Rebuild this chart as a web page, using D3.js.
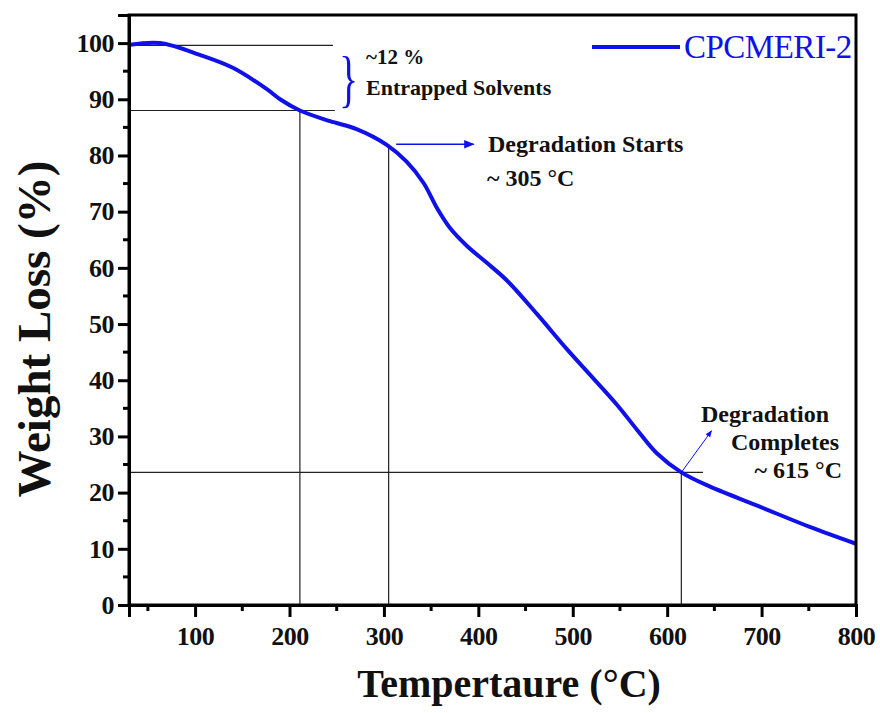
<!DOCTYPE html>
<html lang="en">
<head>
<meta charset="UTF-8">
<title>TGA CPCMERI-2</title>
<script src="https://d3js.org/d3.v7.min.js"></script>
<style>
    body { margin: 0; background: #fff; }
    text { font-family: "Liberation Serif", "Times New Roman", serif; }
</style>
</head>
<body>
<svg width="880" height="713"></svg>
<script>
    // temperature (°C) vs weight (%)
    const temps = [31, 63, 105, 140, 176, 190, 211, 243, 271, 303, 324, 342, 356, 370, 388, 409, 430,
        462, 494, 522, 547, 568, 589, 615, 645, 698, 751, 800];
    const weights = [99.7, 100.0, 97.9, 95.6, 91.8, 90.0, 88.0, 86.1, 84.7, 81.9, 78.9, 75.1, 70.7, 67.1,
        63.9, 60.9, 57.8, 51.8, 45.5, 40.3, 35.6, 31.2, 27.0, 23.6, 21.1, 17.5, 13.9, 10.9];
    const xTicks = [100, 200, 300, 400, 500, 600, 700, 800];
    const yTicks = [0, 10, 20, 30, 40, 50, 60, 70, 80, 90, 100];
    const seriesName = "CPCMERI-2";

    // guide lines: [x0, y0, x1, y1] in data units
    const guides = [
        [30, 99.6, 246, 99.6],
        [30, 88.0, 248, 88.0],
        [30, 23.6, 638, 23.6],
        [211, 0, 211, 88.0],
        [305, 0, 305, 82.0],
        [615, 0, 615, 23.6]
    ];

    const svg = d3.select("svg");
    const margin = {left: 129, right: 24, top: 15, bottom: 108};
    const W = 880, H = 713;

    const x = d3.scaleLinear().domain([30, 800]).range([margin.left, W - margin.right]);
    const y = d3.scaleLinear().domain([0, 105]).range([H - margin.bottom, margin.top]);

    const blue = "#1010e8";

    // guides
    svg.append("g").selectAll("line").data(guides).join("line")
        .attr("x1", d => x(d[0])).attr("y1", d => y(d[1]))
        .attr("x2", d => x(d[2])).attr("y2", d => y(d[3]))
        .attr("stroke", "#222").attr("stroke-width", 1.2);

    // curve
    const line = d3.line().x((d, i) => x(temps[i])).y(d => y(d)).curve(d3.curveCatmullRom.alpha(0.5));
    svg.append("path").datum(weights)
        .attr("d", line)
        .attr("fill", "none").attr("stroke", blue).attr("stroke-width", 4)
        .attr("stroke-linejoin", "round");

    // frame
    svg.append("rect")
        .attr("x", x(30)).attr("y", y(105))
        .attr("width", x(800) - x(30)).attr("height", y(0) - y(105))
        .attr("fill", "none").attr("stroke", "#000").attr("stroke-width", 3);

    // x axis
    const gx = svg.append("g").attr("transform", `translate(0,${y(0)})`);
    gx.call(d3.axisBottom(x).tickValues(xTicks).tickSize(12).tickPadding(8).tickFormat(d3.format("d")));
    gx.append("g").selectAll("line").data(d3.range(50, 800, 100)).join("line")
        .attr("x1", d => x(d)).attr("x2", d => x(d)).attr("y1", 0).attr("y2", 6)
        .attr("stroke", "#000").attr("stroke-width", 3);

    // y axis
    const gy = svg.append("g").attr("transform", `translate(${x(30)},0)`);
    gy.call(d3.axisLeft(y).tickValues(yTicks).tickSize(11).tickPadding(4).tickFormat(d3.format("d")));
    gy.append("g").selectAll("line").data(d3.range(5, 105, 10)).join("line")
        .attr("x1", 0).attr("x2", -6).attr("y1", d => y(d)).attr("y2", d => y(d))
        .attr("stroke", "#000").attr("stroke-width", 3);

    [gx, gy].forEach(g => {
        g.attr("font-size", 26).attr("font-family", "Liberation Serif").attr("font-weight", "bold");
        g.select(".domain").attr("stroke-width", 3);
        g.selectAll(".tick line").attr("stroke-width", 3);
        g.selectAll(".tick text").attr("fill", "#111").attr("letter-spacing", -0.5);
    });
    gx.selectAll(".tick text").attr("dy", "0.78em");

    // axis titles
    svg.append("text")
        .attr("x", 509).attr("y", 697)
        .attr("text-anchor", "middle")
        .attr("font-size", 40).attr("font-weight", "bold").attr("fill", "#111")
        .text("Tempertaure (°C)");
    svg.append("text")
        .attr("transform", "translate(50,329) rotate(-90)")
        .attr("text-anchor", "middle")
        .attr("font-size", 47).attr("font-weight", "bold").attr("fill", "#111")
        .text("Weight Loss (%)");

    // legend
    svg.append("line")
        .attr("x1", 592).attr("x2", 680).attr("y1", 47).attr("y2", 47)
        .attr("stroke", blue).attr("stroke-width", 4);
    svg.append("text")
        .attr("x", 684).attr("y", 58)
        .attr("font-size", 33).attr("fill", blue)
        .attr("letter-spacing", -0.5)
        .text(seriesName);

    // entrapped solvents note
    svg.append("text")
        .attr("x", 0).attr("y", 0)
        .attr("font-size", 64).attr("fill", blue)
        .attr("transform", "translate(339,100) scale(0.62,1)")
        .text("}");
    const note = (tx, ty, size, str, anchor) => svg.append("text")
        .attr("x", tx).attr("y", ty)
        .attr("font-size", size).attr("font-weight", "bold").attr("fill", "#111")
        .attr("text-anchor", anchor || "start")
        .text(str);
    note(366, 64, 21, "~12 %");
    note(366, 95, 22, "Entrapped Solvents");

    // arrows
    const defs = svg.append("defs");
    defs.append("marker").attr("id", "arr")
        .attr("viewBox", "0 0 10 10").attr("refX", 9).attr("refY", 5)
        .attr("markerWidth", 7).attr("markerHeight", 7).attr("orient", "auto")
        .append("path").attr("d", "M0,1 L10,5 L0,9 Z").attr("fill", blue);

    svg.append("line")
        .attr("x1", x(313)).attr("y1", y(82)).attr("x2", x(395)).attr("y2", y(82))
        .attr("stroke", blue).attr("stroke-width", 1.5).attr("marker-end", "url(#arr)");
    note(488, 152, 24, "Degradation Starts");
    note(487, 186, 24, "~ 305 °C");

    svg.append("line")
        .attr("x1", x(615)).attr("y1", y(23.6)).attr("x2", x(647)).attr("y2", y(31))
        .attr("stroke", blue).attr("stroke-width", 1).attr("marker-end", "url(#arr)");
    note(829, 422, 24, "Degradation", "end");
    note(839, 450, 24, "Completes", "end");
    note(842, 478, 24, "~ 615 °C", "end");
</script>
</body>
</html>
